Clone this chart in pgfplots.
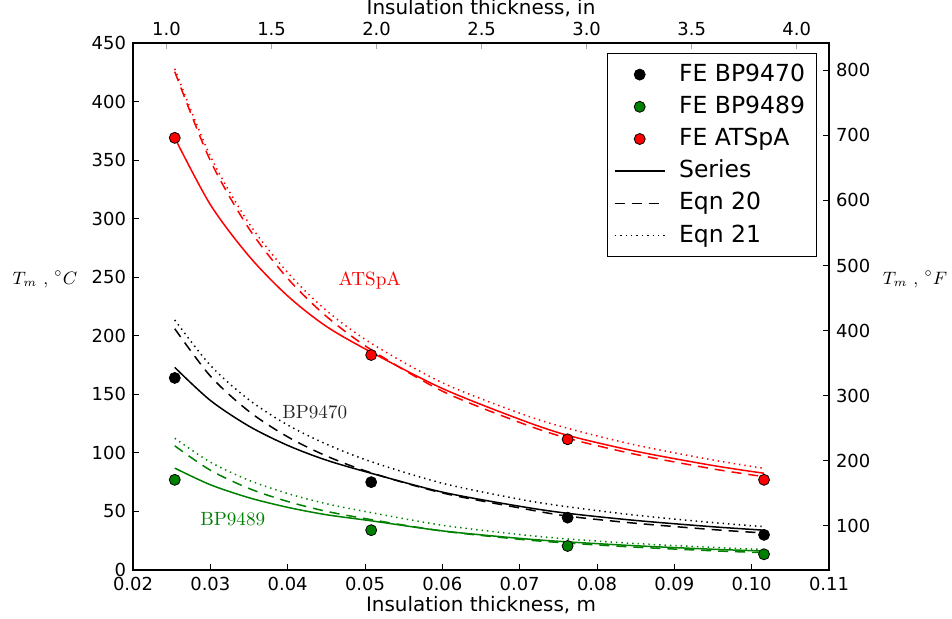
\documentclass[border=0pt]{standalone}
\usepackage{fontspec}
\usepackage{pgfplots}
\usepackage{pgfplotstable}
\pgfplotsset{compat=1.18}
\newfontfamily\dejavu{DejaVu Sans}
\definecolor{mplgreen}{rgb}{0,0.5,0}

% x (m), red/black/green: series, eqn 20, eqn 21
\pgfplotstableread{
x      rs    rd    rt    bs    bd    bt    gs   gd   gt
0.0254 369   425.5 428   173   206   213.5 87   106  112.5
0.030  312   349.6 353.4 144.8 165.6 174.8 72.8 85.2 92.1
0.035  268   291.5 296   122.8 135.4 145.3 61.7 69.6 76.6
0.040  234   249   254   106.4 113.7 123.8 53.5 58.5 65.3
0.045  208   216.6 221.6 93.8  97.4  107.5 47.2 50.1 56.6
0.0508 186   188   193.6 82.6  83    92.5  42   43   49
0.060  155   152.7 159.9 66.5  65.8  74.1  33.4 33.3 38.2
0.070  128.7 126   133.9 54.4  53    60.4  27   26.2 30.3
0.0762 115   112.5 121   48.4  46    54    24   23   26.5
0.085  101.4 98.7  106.7 42.3  39.9  46.8  20.7 19.5 22.6
0.095  89.2  86.3  93.9  36.9  34.5  40.5  17.7 16.4 19.3
0.1016 82.6  79.7  86.8  34    31.6  37    16.2 14.8 17.5
}\curves

% finite element results
\pgfplotstableread{
x      red   black green
0.0254 369   164   77
0.0508 183.6 75    34
0.0762 111.6 44.7  20.5
0.1016 77    30    13.4
}\fepts

\tikzset{
  ticktext/.style={font=\dejavu\fontsize{9}{11}\selectfont},
  labeltext/.style={font=\dejavu\fontsize{10}{12}\selectfont},
  dsh/.style={dash pattern=on 5bp off 3.5bp},
  dot/.style={dash pattern=on 0.7bp off 2bp},
}
\pgfplotsset{
  legmark/.style={legend image code/.code={\draw[mark repeat=2,mark phase=2,##1] plot coordinates {(0bp,0bp) (12.5bp,0bp) (25bp,0bp)};}},
  fe/.style={only marks, mark=*, mark size=2.75bp, mark options={draw=black, line width=0.4bp, fill=#1}},
}

\begin{document}
\begin{tikzpicture}
\begin{axis}[
  name=main,
  scale only axis,
  width=348bp, height=263.5bp,
  xmin=0.02, xmax=0.11, ymin=0, ymax=450,
  xtick={0.02,0.03,0.04,0.05,0.06,0.07,0.08,0.09,0.10,0.11},
  xticklabels={0.02,0.03,0.04,0.05,0.06,0.07,0.08,0.09,0.10,0.11},
  ytick={0,50,...,450},
  xtick pos=left, ytick pos=left,
  tick align=inside,
  major tick length=3bp,
  tick style={black, line width=0.5bp},
  axis line style={line width=0.8bp},
  /pgf/number format/assume math mode=true,
  tick label style={ticktext},
  xlabel={Insulation thickness, m},
  xlabel style={labeltext, yshift=4bp},
  clip=false,
  legend image code/.code={\draw[mark repeat=2,mark phase=2,#1] plot coordinates {(0bp,0bp) (12.5bp,0bp) (25bp,0bp)};},
  legend style={at={(0.983,0.981)}, anchor=north east, draw=black, line width=0.5bp,
    font=\dejavu\fontsize{11.8}{13}\selectfont, cells={anchor=west},
    nodes={inner sep=2.8bp, text height=8.5bp, text depth=2bp},
    /tikz/every odd column/.append style={column sep=4bp},
    inner xsep=3bp, inner ysep=2.5bp},
  legend cell align=left,
]
\addplot[red, line width=0.75bp, smooth, forget plot] table[x=x,y=rs] {\curves};
\addplot[red, line width=0.75bp, smooth, dsh, forget plot] table[x=x,y=rd] {\curves};
\addplot[red, line width=0.75bp, smooth, dot, forget plot] table[x=x,y=rt] {\curves};
\addplot[black, line width=0.75bp, smooth, forget plot] table[x=x,y=bs] {\curves};
\addplot[black, line width=0.75bp, smooth, dsh, forget plot] table[x=x,y=bd] {\curves};
\addplot[black, line width=0.75bp, smooth, dot, forget plot] table[x=x,y=bt] {\curves};
\addplot[mplgreen, line width=0.75bp, smooth, forget plot] table[x=x,y=gs] {\curves};
\addplot[mplgreen, line width=0.75bp, smooth, dsh, forget plot] table[x=x,y=gd] {\curves};
\addplot[mplgreen, line width=0.75bp, smooth, dot, forget plot] table[x=x,y=gt] {\curves};
\addplot[fe=black, forget plot] table[x=x,y=black] {\fepts};
\addplot[fe=mplgreen, forget plot] table[x=x,y=green] {\fepts};
\addplot[fe=red, forget plot] table[x=x,y=red] {\fepts};

\addlegendimage{fe=black, legmark}
\addlegendentry{FE BP9470}
\addlegendimage{fe=mplgreen, legmark}
\addlegendentry{FE BP9489}
\addlegendimage{fe=red, legmark}
\addlegendentry{FE ATSpA}
\addlegendimage{black, line width=0.75bp}
\addlegendentry{Series}
\addlegendimage{black, line width=0.75bp, dsh}
\addlegendentry{Eqn 20}
\addlegendimage{black, line width=0.75bp, dot}
\addlegendentry{Eqn 21}

\node[text=red, font=\fontsize{9.6}{11}\selectfont] at (axis cs:0.0506,247) {ATSpA};
\node[text=black!85, font=\fontsize{9.6}{11}\selectfont] at (axis cs:0.0435,135) {BP9470};
\node[text=mplgreen, font=\fontsize{9.6}{11}\selectfont] at (axis cs:0.0329,43.5) {BP9489};
\node[font=\fontsize{8.6}{10}\selectfont] at ([xshift=-44bp]axis description cs:0,0.552) {$T_m$ , $^\circ C$};
\node[font=\fontsize{8.6}{10}\selectfont] at ([xshift=43bp]axis description cs:1,0.552) {$T_m$ , $^\circ F$};
\end{axis}

\begin{axis}[
  scale only axis,
  width=348bp, height=263.5bp,
  xmin=0.8405, xmax=4.1538, ymin=0, ymax=1,
  axis x line*=top, axis y line=none,
  xtick={1.0,1.5,2.0,2.5,3.0,3.5,4.0},
  xticklabels={1.0,1.5,2.0,2.5,3.0,3.5,4.0},
  tick align=inside,
  major tick length=3bp,
  tick style={gray!70, line width=0.5bp},
  axis line style={line width=0.8bp},
  tick label style={ticktext},
  xlabel={Insulation thickness, in},
  xlabel style={labeltext, yshift=-4bp},
]
\addplot[draw=none] coordinates {(1,0.5)};
\end{axis}

\begin{axis}[
  scale only axis,
  width=348bp, height=263.5bp,
  xmin=0, xmax=1, ymin=32, ymax=842,
  axis y line*=right, axis x line=none,
  ytick={100,200,...,800},
  tick align=inside,
  major tick length=3bp,
  tick style={black, line width=0.5bp},
  axis line style={line width=0.8bp},
  /pgf/number format/assume math mode=true,
  tick label style={ticktext},
]
\addplot[draw=none] coordinates {(0.5,100)};
\end{axis}

\pgfresetboundingbox
\path[use as bounding box] ([shift={(-66.5bp,-24.5bp)}]main.south west) rectangle ([shift={(61.5bp,21.5bp)}]main.north east);
\end{tikzpicture}
\end{document}
